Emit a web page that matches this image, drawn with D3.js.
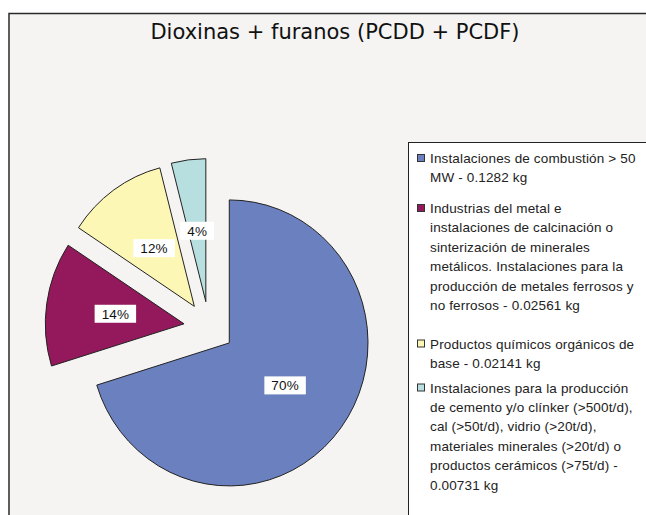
<!DOCTYPE html>
<html>
<head>
<meta charset="utf-8">
<script src="https://cdn.jsdelivr.net/npm/d3@7"></script>
<style>
  body { margin: 0; background: #fff; }
  svg { display: block; }
</style>
</head>
<body>
<script>
const categories = [
  "Instalaciones de combustión > 50 MW",
  "Industrias del metal e instalaciones de calcinación o sinterización de minerales metálicos. Instalaciones para la producción de metales ferrosos y no ferrosos",
  "Productos químicos orgánicos de base",
  "Instalaciones para la producción de cemento y/o clínker (>500t/d), cal (>50t/d), vidrio (>20t/d), materiales minerales (>20t/d) o productos cerámicos (>75t/d)"
];
const values = [0.1282, 0.02561, 0.02141, 0.00731];
const colors = ["#6b80bf", "#93185c", "#fdf7b6", "#b7dfe0"];
const legendLines = [
  ["Instalaciones de combustión > 50", "MW - 0.1282 kg"],
  ["Industrias del metal  e", "instalaciones de calcinación o", "sinterización de minerales",
   "metálicos. Instalaciones para la", "producción de metales ferrosos y", "no ferrosos - 0.02561 kg"],
  ["Productos químicos orgánicos de", "base - 0.02141 kg"],
  ["Instalaciones para la producción", "de cemento y/o clínker (>500t/d),", "cal (>50t/d), vidrio (>20t/d),",
   "materiales minerales (>20t/d) o", "productos cerámicos (>75t/d) -", "0.00731 kg"]
];
const title = "Dioxinas + furanos (PCDD + PCDF)";

const width = 646, height = 515;
const cx = 209, cy = 327.5, radius = 143, explode = 26, squeeze = 0.97;

const svg = d3.select("body").append("svg")
  .attr("width", width)
  .attr("height", height);

// chart frame
svg.append("rect")
  .attr("x", 9).attr("y", 13.5)
  .attr("width", 700).attr("height", 600)
  .attr("fill", "#f5f4f2")
  .attr("stroke", "#2a2a2a")
  .attr("stroke-width", 1.5);

svg.append("text")
  .attr("x", 335)
  .attr("y", 39)
  .attr("text-anchor", "middle")
  .style("font-family", "'DejaVu Sans', sans-serif")
  .style("font-size", "21px")
  .attr("fill", "#111")
  .text(title);

const data = values.map((v, i) => ({name: categories[i], value: v, color: colors[i]}));
const total = d3.sum(values);

const pie = d3.pie().sort(null).value(d => d.value);
const arcs = pie(data);
const arc = d3.arc().innerRadius(0).outerRadius(radius);

const offset = d => {
  const mid = (d.startAngle + d.endAngle) / 2;
  return [Math.sin(mid) * explode, -Math.cos(mid) * explode];
};

const pieG = svg.append("g")
  .attr("transform", `translate(${cx},${cy}) scale(${squeeze},1)`);

pieG.selectAll("path")
  .data(arcs)
  .enter().append("path")
  .attr("d", arc)
  .attr("transform", d => `translate(${offset(d)[0]},${offset(d)[1]})`)
  .attr("fill", d => d.data.color)
  .attr("stroke", "#222")
  .attr("stroke-width", 1)
  .attr("vector-effect", "non-scaling-stroke");

// percent labels
const labels = svg.append("g")
  .selectAll("g")
  .data(arcs)
  .enter().append("g")
  .attr("transform", d => {
    const c = arc.centroid(d), o = offset(d);
    return `translate(${cx + (c[0] + o[0]) * squeeze},${cy + c[1] + o[1]})`;
  });

labels.append("text")
  .attr("text-anchor", "middle")
  .attr("dy", "0.36em")
  .style("font-family", "'Liberation Sans', Arial, sans-serif")
  .style("font-size", "13.5px")
  .style("letter-spacing", "0.15px")
  .attr("fill", "#111")
  .text(d => Math.round(d.data.value / total * 100) + "%");

labels.each(function() {
  const g = d3.select(this);
  const bb = g.select("text").node().getBBox();
  g.insert("rect", "text")
    .attr("x", bb.x - 7)
    .attr("y", -9)
    .attr("width", bb.width + 14)
    .attr("height", 18)
    .attr("fill", "#fff");
});

// legend
svg.append("rect")
  .attr("x", 408.5).attr("y", 142.5)
  .attr("width", 300).attr("height", 400)
  .attr("fill", "#fff")
  .attr("stroke", "#222")
  .attr("stroke-width", 1);

const legendTop = [163, 213, 348.5, 392.5];
const lineH = 19.4;

const legend = svg.append("g")
  .selectAll("g")
  .data(data)
  .enter().append("g")
  .attr("transform", (d, i) => `translate(0,${legendTop[i]})`);

legend.append("rect")
  .attr("x", 417.5).attr("y", -8.5)
  .attr("width", 7).attr("height", 7)
  .attr("fill", d => d.color)
  .attr("stroke", "#333")
  .attr("stroke-width", 1);

legend.each(function(d, i) {
  d3.select(this).selectAll("text")
    .data(legendLines[i])
    .enter().append("text")
    .attr("x", 430)
    .attr("y", (t, j) => j * lineH)
    .style("font-family", "'Liberation Sans', Arial, sans-serif")
    .style("font-size", "13.5px")
    .style("letter-spacing", "0.15px")
    .attr("fill", "#222")
    .text(t => t);
});
</script>
</body>
</html>
